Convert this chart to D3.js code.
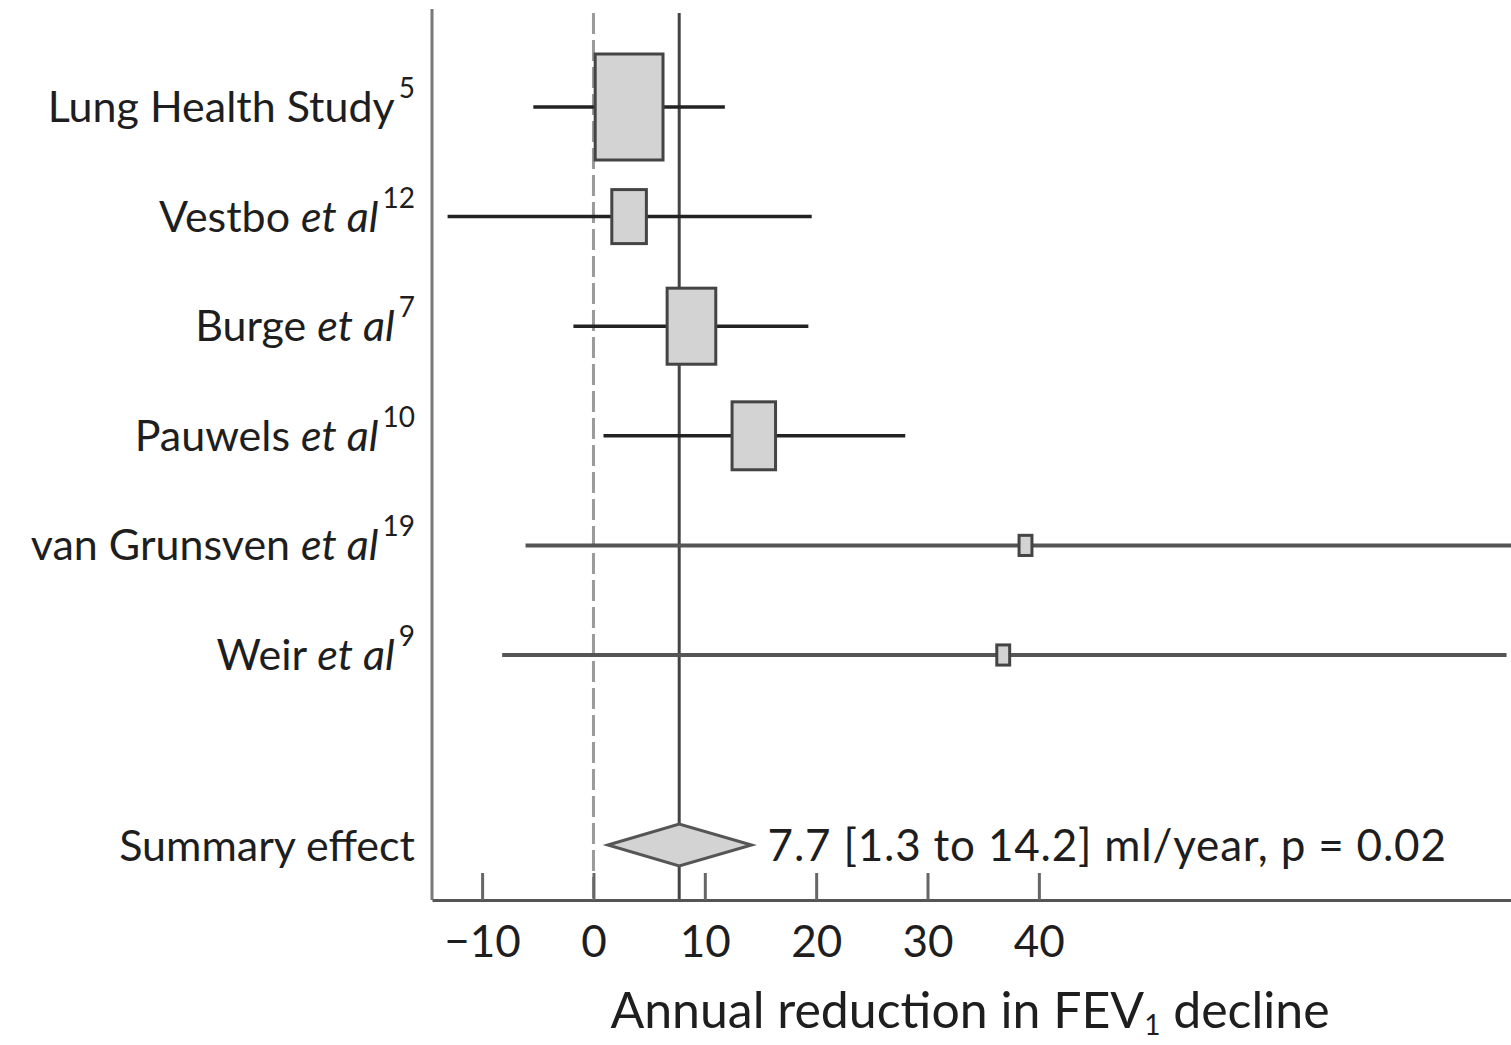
<!DOCTYPE html>
<html>
<head>
<meta charset="utf-8">
<script src="https://cdn.jsdelivr.net/npm/d3@7"></script>
<style>
  body { margin: 0; background: #fff; }
  text { font-family: Lato, "Open Sans", sans-serif; fill: #1e1e1e; }
</style>
</head>
<body>
<script>
// study rows, top to bottom
var studies = ["Lung Health Study", "Vestbo", "Burge", "Pauwels", "van Grunsven", "Weir"]
var etAl = [false, true, true, true, true, true]
var refs = ["5", "12", "7", "10", "19", "9"]
var estimate = [3.2, 3.2, 8.8, 14.4, 38.8, 36.8]
var lower = [-5.4, -13.1, -1.8, 0.9, -6.1, -8.2]
var upper = [11.8, 19.6, 19.3, 28.0, 86.0, 82.0]
var weights = [44.3, 11.5, 22.8, 18.2, 1.6, 1.6]

var summary = { est: 7.7, lo: 1.3, hi: 14.2, p: "0.02" }
var tickValues = [-10, 0, 10, 20, 30, 40]

var W = 1511, H = 1045
var svg = d3.select('body').append('svg')
  .attr('width', W)
  .attr('height', H)

var x = d3.scaleLinear().domain([-14.5, 82.4]).range([432, 1511])
var y = d3.scaleLinear().domain([0, studies.length - 1]).range([107, 655])
var ySummary = y(studies.length - 1) + 190
var axisY = 900
var boxH = d3.scaleSqrt().domain([0, 44.3]).range([0, 106])

var rows = studies.map(function(s, i) {
  return { name: s, etAl: etAl[i], ref: refs[i], est: estimate[i], lo: lower[i], hi: upper[i], w: weights[i], i: i }
})

// left frame line
svg.append('line')
  .attr('x1', x(-14.5)).attr('x2', x(-14.5))
  .attr('y1', 9).attr('y2', axisY)
  .attr('stroke', '#7a7a7a').attr('stroke-width', 3)

// no-effect line at 0
svg.append('line')
  .attr('x1', x(0)).attr('x2', x(0))
  .attr('y1', 13).attr('y2', axisY)
  .attr('stroke', '#9a9a9a').attr('stroke-width', 3)
  .attr('stroke-dasharray', '21 6')

// summary estimate line
svg.append('line')
  .attr('x1', x(summary.est)).attr('x2', x(summary.est))
  .attr('y1', 13).attr('y2', axisY)
  .attr('stroke', '#444').attr('stroke-width', 3)

// confidence intervals
svg.selectAll('line.ci').data(rows).enter().append('line')
  .attr('class', 'ci')
  .attr('x1', function(d) { return x(d.lo) })
  .attr('x2', function(d) { return x(d.hi) })
  .attr('y1', function(d) { return y(d.i) })
  .attr('y2', function(d) { return y(d.i) })
  .attr('stroke', function(d) { return d.w < 5 ? '#555' : '#222' })
  .attr('stroke-width', function(d) { return d.w < 5 ? 4 : 3.5 })

// weighted boxes
svg.selectAll('rect.box').data(rows).enter().append('rect')
  .attr('class', 'box')
  .attr('x', function(d) { return x(d.est) - boxH(d.w) * 0.32 })
  .attr('y', function(d) { return y(d.i) - boxH(d.w) / 2 })
  .attr('width', function(d) { return boxH(d.w) * 0.64 })
  .attr('height', function(d) { return boxH(d.w) })
  .attr('fill', '#d3d3d3')
  .attr('stroke', '#444')
  .attr('stroke-width', 3)

// summary diamond
var dh = 21
svg.append('path')
  .attr('d', 'M' + x(summary.lo) + ',' + ySummary +
             'L' + x(summary.est) + ',' + (ySummary - dh) +
             'L' + x(summary.hi) + ',' + ySummary +
             'L' + x(summary.est) + ',' + (ySummary + dh) + 'Z')
  .attr('fill', '#d3d3d3')
  .attr('stroke', '#555')
  .attr('stroke-width', 3)

svg.append('text')
  .attr('x', x(summary.hi) + 16)
  .attr('y', ySummary + 16)
  .attr('font-size', 44)
  .attr('letter-spacing', 0.8)
  .text(summary.est + ' [' + summary.lo + ' to ' + summary.hi + '] ml/year, p = ' + summary.p)

// row labels
var labels = svg.selectAll('text.lab').data(rows).enter().append('text')
  .attr('class', 'lab')
  .attr('x', 415)
  .attr('y', function(d) { return y(d.i) + 15 })
  .attr('text-anchor', 'end')
  .attr('font-size', 43)
labels.append('tspan').text(function(d) { return d.etAl ? d.name + ' ' : d.name })
labels.append('tspan').attr('font-style', 'italic').text(function(d) { return d.etAl ? 'et al' : '' })
labels.append('tspan').attr('font-size', 28).attr('dy', -24).attr('dx', 4).text(function(d) { return d.ref })

svg.append('text')
  .attr('x', 415)
  .attr('y', ySummary + 16)
  .attr('text-anchor', 'end')
  .attr('font-size', 43)
  .text('Summary effect')

// x axis
var axis = svg.append('g')
  .attr('transform', 'translate(0,' + axisY + ')')
  .call(d3.axisBottom(x).tickValues(tickValues).tickSizeInner(-27).tickSizeOuter(0).tickPadding(26))
axis.select('.domain').attr('stroke', '#555').attr('stroke-width', 3)
axis.selectAll('.tick line').attr('stroke', '#666').attr('stroke-width', 3)
axis.selectAll('.tick text')
  .attr('font-size', 44)
  .attr('font-family', 'Lato, sans-serif')
  .attr('fill', '#1e1e1e')

var title = svg.append('text')
  .attr('x', 970)
  .attr('y', 1028)
  .attr('text-anchor', 'middle')
  .attr('font-size', 50)
title.append('tspan').text('Annual reduction in FEV')
title.append('tspan').attr('font-size', 28).attr('dy', 7).text('1')
title.append('tspan').attr('dy', -7).text(' decline')
</script>
</body>
</html>
